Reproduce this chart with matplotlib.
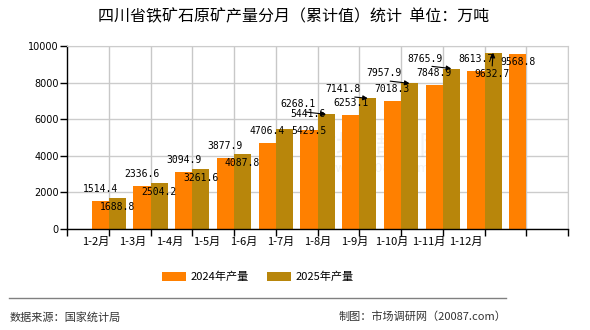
import numpy as np
import matplotlib
matplotlib.use("Agg")
import matplotlib.pyplot as plt
from matplotlib.ticker import FixedLocator

plt.rcParams['font.family'] = ['DejaVu Sans', 'Noto Sans CJK SC']

months = ["1-2月", "1-3月", "1-4月", "1-5月", "1-6月", "1-7月",
          "1-8月", "1-9月", "1-10月", "1-11月", "1-12月"]
prod_2024 = [1514.4, 2336.6, 3094.9, 3877.9, 4706.4, 5429.5,
             6253.1, 7018.3, 7848.9, 8613.7, 9568.8]
prod_2025 = [1688.8, 2504.2, 3261.6, 4087.8, 5441.6, 6268.1,
             7141.8, 7957.9, 8765.9, 9632.7, np.nan]

C24 = "#FF8000"
C25 = "#B8860B"
CJK = ['Noto Sans CJK SC', 'DejaVu Sans']
MONO = ['DejaVu Sans Mono']


def main():
    fig = plt.figure(figsize=(5.9, 3.3), dpi=100)
    ax = fig.add_axes([67 / 590, 101 / 330, 501 / 590, 183 / 330])

    x = np.arange(len(months))
    w = 0.41
    ax.bar(x - w / 2, prod_2024, width=w, color=C24, label="2024年产量", zorder=2)
    ax.bar(x + w / 2, prod_2025, width=w, color=C25, label="2025年产量", zorder=2)

    ax.set_xlim(-1, 11)
    ax.set_ylim(0, 10000)
    ax.set_yticks(range(0, 10001, 2000))
    ax.tick_params(axis='y', labelsize=7, length=5, width=1.0, pad=1)

    # labels drift left of the slots like the original; ticks + grid sit on the slots
    ax.set_xticks((96 + 37 * x - 109) / 41.7)
    ax.set_xticklabels(months, fontfamily=CJK, fontsize=8)
    ax.xaxis.set_minor_locator(FixedLocator(np.arange(-1, 12)))
    ax.tick_params(axis='x', which='major', length=0, pad=6)
    ax.tick_params(axis='x', which='minor', length=5, width=1.0, color='black')
    ax.grid(axis='y', color='#cccccc', linewidth=1.0)
    ax.set_axisbelow(True)
    for xs in range(0, 12):
        ax.axvline(xs, color='#c8c8c8', linewidth=1.0, zorder=1)
    for s in ('top', 'right'):
        ax.spines[s].set_color('#cccccc')
    for s in ('left', 'bottom'):
        ax.spines[s].set_linewidth(1.0)

    # value labels: (series, index) -> (dx, dy, arrow start)
    overrides = {
        (1, 4): (24, 15, None),
        (0, 5): (0, -1, None),
        (1, 5): (-28, 10, (0, 0)),
        (1, 6): (-25, 9, (0, 0)),
        (1, 7): (-26, 10, (0, 0)),
        (1, 8): (-26, 10, (0, 0)),
        (1, 9): (-1, -21, (0.5, 1)),
        (0, 10): (0, -8, None),
    }
    for k, (vals, off) in enumerate(((prod_2024, -w / 2), (prod_2025, w / 2))):
        for i, v in enumerate(vals):
            if np.isnan(v):
                continue
            dx, dy, rel = overrides.get((k, i), (0, 12 if k == 0 else -9, None))
            arrow = None
            if rel is not None:
                arrow = dict(arrowstyle='-|>', color='black', lw=0.8,
                             mutation_scale=7, relpos=rel, shrinkA=0, shrinkB=0)
            ax.annotate(f"{v:.1f}", xy=(i + off, v), xytext=(dx, dy),
                        textcoords='offset pixels', ha='center', va='center',
                        fontsize=7, fontfamily=MONO, arrowprops=arrow, zorder=5)

    # faint watermark
    ax.text(0.62, 0.45, "市场调研网", transform=ax.transAxes, ha='center', va='center',
            fontsize=20, fontfamily=CJK, color='#999999', alpha=0.12, zorder=1)
    ax.text(0.62, 0.33, "www.20087.com", transform=ax.transAxes, ha='center', va='center',
            fontsize=9, color='#999999', alpha=0.12, zorder=1)

    fig.text(294 / 590, 1 - 17 / 330, "四川省铁矿石原矿产量分月（累计值）统计  单位：万吨",
             ha='center', va='center', fontsize=11.5, fontfamily=CJK)

    fig.legend(loc='center', bbox_to_anchor=(258 / 590, 1 - 277 / 330), ncol=2,
               frameon=False, prop={'family': CJK, 'size': 8},
               handlelength=2.2, handleheight=0.8, handletextpad=0.4, columnspacing=1.6)

    fig.add_artist(plt.Line2D([9 / 590, 506 / 590], [1 - 298 / 330] * 2,
                              color='#808080', lw=1.0, transform=fig.transFigure))
    fig.text(10 / 590, 1 - 317 / 330, "数据来源：国家统计局", ha='left', va='center',
             fontsize=8, fontfamily=CJK, color='#333333')
    fig.text(506 / 590, 1 - 317 / 330, "制图：市场调研网（20087.com）", ha='right', va='center',
             fontsize=8, fontfamily=CJK, color='#333333')

    fig.savefig("out.png", dpi=100)
    plt.close(fig)


if __name__ == "__main__":
    main()
